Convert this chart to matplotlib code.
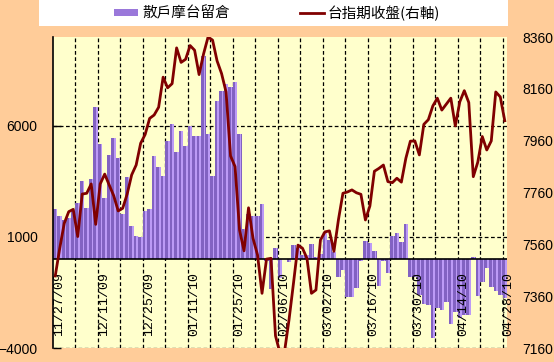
import numpy as np
import matplotlib
matplotlib.use('Agg')
import matplotlib.pyplot as plt
from matplotlib.patches import Rectangle, Patch
from matplotlib.lines import Line2D

# daily data, 11/27/09 .. 04/28/10 (101 trading days)
retail_oi = [2250, 1940, 1760, 1860, 2200, 2520, 3510, 2300, 3600, 6850,
             5180, 2750, 4690, 5450, 4560, 2040, 3710, 1490, 1040, 990,
             2160, 2250, 4640, 4140, 3740, 5320, 6080, 4820, 5770, 5090,
             5990, 5540, 5540, 9160, 5630, 3740, 7120, 7570, 7880, 7750,
             7970, 5630, 1350, 2030, 1940, 1940, 2480, -90, -1350, 500,
             -870, 0, -140, 630, 500, 190, 190, 675, 90, 250,
             1215, 855, 300, -800, -500, -1700, -1700, -1290, -75, 810,
             720, 360, -1200, -75, -615, 1035, 1170, 765, 1575, -800,
             -800, -1620, -2030, -2070, -3570, -2180, -2270, -1950, -2940, -2400,
             -2630, -2530, -2500, 90, -1650, -1050, -400, -1250, -1450, -1600,
             -1750]
taiex = [7438, 7545, 7641, 7686, 7695, 7590, 7754, 7757, 7793, 7637,
         7793, 7831, 7789, 7748, 7689, 7699, 7754, 7828, 7866, 7950,
         7984, 8046, 8059, 8089, 8205, 8164, 8180, 8318, 8262, 8274,
         8327, 8309, 8215, 8295, 8360, 8348, 8268, 8219, 8148, 7901,
         7860, 7615, 7535, 7701, 7583, 7519, 7371, 7503, 7506, 7207,
         7140, 7145, 7268, 7410, 7557, 7545, 7506, 7371, 7384, 7577,
         7608, 7612, 7533, 7655, 7757, 7762, 7770, 7759, 7753, 7654,
         7708, 7842, 7853, 7866, 7802, 7798, 7815, 7800, 7892, 7958,
         7959, 7905, 8023, 8041, 8094, 8124, 8078, 8101, 8124, 8017,
         8110, 8153, 8107, 7821, 7877, 7976, 7924, 7959, 8148, 8129,
         8037]
date_labels = ['11/27/09', '12/11/09', '12/25/09', '01/11/10', '01/25/10', '02/06/10',
               '03/02/10', '03/16/10', '03/30/10', '04/14/10', '04/28/10']
label_pos = list(range(0, 101, 10))
left_ticks = [-4000, 1000, 6000]
right_ticks = [7160, 7360, 7560, 7760, 7960, 8160, 8360]

BG = '#FFCC99'
PLOT_BG = '#FFFFCC'
BAR_DARK = '#8262C2'
BAR_LIGHT = '#BC9AF6'
LINE_C = '#800000'
CJK = ['Noto Sans CJK TC', 'DejaVu Sans']

fig = plt.figure(figsize=(5.54, 3.62), dpi=100, facecolor=BG)
ax = fig.add_axes([53/554, 1-348/362, 454/554, 311/362])
ax.set_facecolor(PLOT_BG)

x = np.arange(len(retail_oi))
ax.bar(x, retail_oi, width=1.0, color=BAR_DARK, linewidth=0, zorder=2)
ax.bar(x + 0.25, retail_oi, width=0.35, color=BAR_LIGHT, linewidth=0, zorder=2)
ax.axhline(0, color='black', lw=1.2, zorder=3)

ax.set_xlim(-0.5, 100.5)
ax.set_ylim(-4000, 10000)
ax.set_yticks(left_ticks)
ax.set_xticks(np.arange(4.5, 100, 5))
ax.set_xticklabels([])
ax.tick_params(axis='x', length=0)
ax.tick_params(axis='y', direction='in', length=6, width=1, pad=11,
               labelsize=10, colors='black')
for t in ax.get_yticklabels():
    t.set_fontfamily('Liberation Sans')
ax.grid(True, color='black', linestyle=(0, (3, 2)), linewidth=0.9)
ax.set_axisbelow(True)
for s in ['top', 'right', 'bottom']:
    ax.spines[s].set_visible(False)
ax.spines['left'].set_linewidth(1.2)

for p, lab in zip(label_pos, date_labels):
    ax.text(p - 0.5, 0.04, lab, rotation=90, ha='left', va='bottom',
            transform=ax.get_xaxis_transform(), fontsize=9.5,
            family='Liberation Mono', zorder=4)

ax2 = ax.twinx()
ax2.plot(x, taiex, color=LINE_C, lw=2.0, zorder=5)
ax2.set_ylim(7160, 8360)
ax2.set_yticks(right_ticks)
ax2.tick_params(axis='y', length=0, pad=11, labelsize=10)
for t in ax2.get_yticklabels():
    t.set_fontfamily('Liberation Sans')
for s in ax2.spines.values():
    s.set_visible(False)

# legend box
fig.add_artist(Rectangle((39/554, 1-26/362), 469/554, 26/362,
                         transform=fig.transFigure, facecolor='white',
                         edgecolor='none'))
handles = [Patch(facecolor='#9A78DA', edgecolor='none'),
           Line2D([], [], color=LINE_C, lw=2)]
fig.legend(handles, ['散戶摩台留倉', '台指期收盤(右軸)'], loc='center',
           bbox_to_anchor=(277/554, 1-13/362), ncol=2, frameon=False,
           prop={'family': CJK, 'size': 10.5}, handlelength=1.65,
           handleheight=0.45, handletextpad=0.25, columnspacing=4.8,
           borderpad=0, borderaxespad=0)

fig.savefig('out.png', dpi=100, facecolor=BG)
